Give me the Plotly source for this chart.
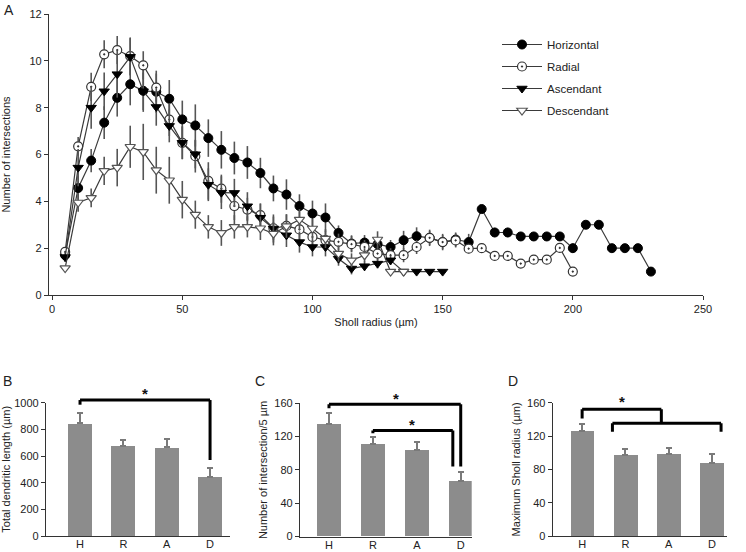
import plotly.graph_objects as go

W, H = 746, 552

# ---- panel A: Sholl profiles ----
radius = [5, 10, 15, 20, 25, 30, 35, 40, 45, 50, 55, 60, 65, 70, 75, 80, 85, 90, 95, 100,
          105, 110, 115, 120, 125, 130, 135, 140, 145, 150, 155, 160, 165, 170, 175, 180,
          185, 190, 195, 200, 205, 210, 215, 220, 225, 230]

horizontal = [1.7, 4.57, 5.74, 7.36, 8.42, 9.0, 8.72, 8.68, 8.38, 7.5,
              7.24, 6.7, 6.2, 5.85, 5.66, 5.21, 4.55, 4.29, 3.8, 3.48,
              3.31, 2.65, 2.2, 2.24, 2.17, 2.05, 2.34, 2.51, 2.44, 2.26,
              2.37, 2.26, 3.67, 2.67, 2.67, 2.5, 2.5, 2.5, 2.5, 2.0,
              3.0, 3.0, 2.0, 2.0, 2.0, 1.0]
horizontal_err = [0.2, 0.5, 0.5, 0.7, 0.8, 0.9, 0.9, 0.9, 0.8, 0.8,
                  0.9, 0.8, 0.8, 0.7, 0.7, 0.65, 0.55, 0.65, 0.5, 0.55,
                  0.6, 0.32, 0.35, 0.32, 0.3, 0.3, 0.4, 0.38, 0.3, 0.35,
                  0.3, 0.35, 0, 0.2, 0.2, 0, 0, 0, 0, 0.2,
                  0, 0, 0, 0, 0, 0]

radial = [1.84, 6.35, 8.89, 10.28, 10.46, 10.2, 9.81, 8.86, 7.49, 6.5,
          5.93, 4.87, 4.54, 3.8, 3.65, 3.41, 2.85, 2.95, 2.8, 2.48,
          2.34, 2.27, 2.17, 2.05, 1.77, 1.7, 1.7, 2.05, 2.44, 2.26,
          2.33, 1.98, 2.0, 1.67, 1.67, 1.34, 1.51, 1.51, 2.01, 1.0]
radial_err = [0.2, 0.4, 0.6, 0.6, 0.6, 0.8, 0.6, 0.6, 0.7, 0.7,
              0.7, 0.8, 0.6, 0.6, 0.5, 0.5, 0.5, 0.5, 0.5, 0.4,
              0.4, 0.35, 0.35, 0.3, 0.3, 0.3, 0.3, 0.3, 0.35, 0.3,
              0.3, 0.2, 0.2, 0.15, 0.15, 0.1, 0.1, 0.1, 0.15, 0]

ascendant = [1.62, 5.44, 8.0, 8.7, 9.43, 10.17, 8.7, 8.03, 7.22, 6.5,
             6.01, 4.71, 4.37, 4.36, 3.79, 3.3, 2.84, 2.55, 2.26, 2.05,
             2.05, 1.55, 1.13, 1.23, 1.34, 1.48, 1.0, 1.0, 1.0, 1.0]
ascendant_err = [0.2, 0.8, 0.9, 0.8, 1.0, 0.8, 0.8, 0.8, 0.7, 0.7,
                 0.6, 0.7, 0.7, 0.6, 0.6, 0.6, 0.6, 0.5, 0.45, 0.4,
                 0.4, 0.3, 0.25, 0.2, 0.2, 0.2, 0, 0, 0, 0]

descendant = [1.15, 3.95, 4.15, 5.3, 5.44, 6.33, 6.11, 5.33, 4.9, 4.07,
              3.43, 2.91, 2.65, 2.91, 2.91, 2.85, 2.62, 2.94, 3.22, 2.84,
              2.41, 1.77, 1.48, 1.7, 2.37, 1.0, 1.0]
descendant_err = [0.1, 0.4, 0.4, 0.6, 0.8, 0.9, 1.2, 1.0, 1.0, 0.8,
                  0.6, 0.5, 0.55, 0.5, 0.45, 0.5, 0.5, 0.5, 0.45, 0.4,
                  0.4, 0.35, 0.3, 0.3, 0.35, 0, 0]

# ---- panels B-D: group summaries ----
groups = ['H', 'R', 'A', 'D']
total_length = [845, 675, 665, 445]
total_length_err = [80, 45, 60, 67]
n_intersections = [135, 111, 104, 66.5]
n_intersections_err = [13, 8, 9.5, 10.5]
max_radius = [126, 97.5, 99, 88]
max_radius_err = [8, 7, 7, 10]

FONT = 'Liberation Sans, Arial, sans-serif'
INK = '#222222'
LINE = '#3a3a3a'
BAR = '#8c8c8c'


def px_dom(a, b, size):
    return [a / size, b / size]


def py_dom(top, bottom):
    # pixel rows (from top) -> paper fractions
    return [1 - bottom / H, 1 - top / H]


fig = go.Figure()

series = [
    ('Horizontal', radius[:len(horizontal)], horizontal, horizontal_err,
     dict(symbol='circle', color='black', size=9, line=dict(color='black', width=1))),
    ('Radial', radius[:len(radial)], radial, radial_err,
     dict(symbol='circle-dot', color='white', size=9, line=dict(color='#333333', width=1.2))),
    ('Ascendant', radius[:len(ascendant)], ascendant, ascendant_err,
     dict(symbol='triangle-down', color='black', size=9, line=dict(color='black', width=1))),
    ('Descendant', radius[:len(descendant)], descendant, descendant_err,
     dict(symbol='triangle-down', color='white', size=9, line=dict(color='#555555', width=1.2))),
]
for name, xs, ys, es, mk in series:
    fig.add_trace(go.Scatter(
        x=xs, y=ys, name=name, mode='lines+markers', legendgroup=name,
        line=dict(color=LINE, width=1.2),
        marker=mk,
        error_y=dict(type='data', array=es, color='#555555', thickness=1.6, width=0),
        xaxis='x', yaxis='y', cliponaxis=False,
    ))

bar_sets = [
    (total_length, total_length_err, 'x2', 'y2'),
    (n_intersections, n_intersections_err, 'x3', 'y3'),
    (max_radius, max_radius_err, 'x4', 'y4'),
]
for vals, errs, xa, ya in bar_sets:
    fig.add_trace(go.Bar(
        x=list(range(len(groups))), y=vals, width=0.55,
        marker=dict(color=BAR, line=dict(width=0)),
        error_y=dict(type='data', array=errs, arrayminus=[0] * len(errs),
                     symmetric=False, color='#7a7a7a', thickness=2, width=3),
        showlegend=False, xaxis=xa, yaxis=ya,
    ))

tickfont = dict(family=FONT, size=11, color=INK)
titlefont = dict(family=FONT, size=11, color=INK)

axis_common = dict(showline=True, linecolor='#333333', linewidth=1.2, showgrid=False,
                   zeroline=False, ticks='outside', ticklen=4, tickcolor='#333333',
                   tickfont=tickfont, automargin=False)

layout_axes = dict(
    xaxis=dict(axis_common, domain=px_dom(49, 703, W), range=[-1.2, 250],
               tickvals=[0, 50, 100, 150, 200, 250], anchor='y',
               title=dict(text='Sholl radius (µm)', font=titlefont, standoff=4)),
    yaxis=dict(axis_common, domain=py_dom(14, 295), range=[0, 12], dtick=2, anchor='x',
               title=dict(text='Number of intersections', font=titlefont, standoff=22)),
)

panels = [
    ('2', (46, 230), (402.7, 536), [-0.785, 3.46], [0, 1000], 200, 'Total dendritic length (µm)'),
    ('3', (300, 471.7), (403.3, 536.5), [-0.66, 3.25], [0, 160], 40, 'Number of intersection/5 µm'),
    ('4', (552.7, 726.7), (402.7, 536), [-0.68, 3.34], [0, 160], 40, 'Maximum Sholl radius (µm)'),
]
for k, (x0, x1), (top, bot), xr, yr, dt, ytitle in panels:
    layout_axes['xaxis' + k] = dict(axis_common, domain=px_dom(x0, x1, W), range=xr,
                                    tickvals=list(range(len(groups))), ticktext=groups,
                                    ticks='', ticklabelstandoff=-2, anchor='y' + k)
    layout_axes['yaxis' + k] = dict(axis_common, domain=py_dom(top, bot), range=yr, dtick=dt,
                                    anchor='x' + k,
                                    title=dict(text=ytitle, font=titlefont, standoff=4))

fig.update_layout(**layout_axes)

# significance brackets: (x index, value) polylines per panel, and star positions
brackets = [
    ('2', 1000, [[(0, 985), (0, 1020), (3, 1020), (3, 570)]], [(1.5, 1075)]),
    ('3', 160, [[(0, 154), (0, 159), (3, 159), (3, 84)],
                [(1, 124), (1, 127.4), (2.82, 127.4), (2.82, 84)]],
     [(1.52, 166), (1.9, 135)]),
    ('4', 160, [[(0, 141), (0, 152), (1.83, 152), (1.83, 135.2)],
                [(0.7, 125.2), (0.7, 135.2), (3.21, 135.2), (3.21, 125.2)]],
     [(0.91, 162)]),
]
shapes, annotations = [], []
for k, top, lines, stars in brackets:
    for pts in lines:
        for (xa, ya), (xb, yb) in zip(pts[:-1], pts[1:]):
            shapes.append(dict(type='line', xref='x' + k, yref='y' + k + ' domain',
                               x0=xa, x1=xb, y0=ya / top, y1=yb / top,
                               line=dict(color='black', width=3)))
    for sx, sy in stars:
        annotations.append(dict(x=sx, y=sy / top, xref='x' + k, yref='y' + k + ' domain',
                                text='<b>*</b>', showarrow=False, yshift=10,
                                font=dict(family=FONT, size=15, color='#111111')))

for letter, lx, ly in [('A', 2, 0), ('B', 1, 371), ('C', 253, 371), ('D', 506, 371)]:
    annotations.append(dict(x=lx / W, y=1 - ly / H, xref='paper', yref='paper',
                            xanchor='left', yanchor='top', text=letter, showarrow=False,
                            font=dict(family=FONT, size=14, color=INK)))

fig.update_layout(
    width=W, height=H,
    margin=dict(l=0, r=0, t=0, b=0),
    paper_bgcolor='white', plot_bgcolor='white',
    font=dict(family=FONT, size=11, color=INK),
    shapes=shapes, annotations=annotations,
    legend=dict(x=497 / W, y=1 - 30 / H, xanchor='left', yanchor='top',
                bgcolor='rgba(0,0,0,0)', font=dict(family=FONT, size=11.5, color=INK),
                itemwidth=40, traceorder='grouped', tracegroupgap=3),
    bargap=0,
)

# drop the browser's default body margin so the figure sits at the page origin
fig.write_html('out.html', config={'displayModeBar': False},
               post_script="document.body.style.margin='0';")
